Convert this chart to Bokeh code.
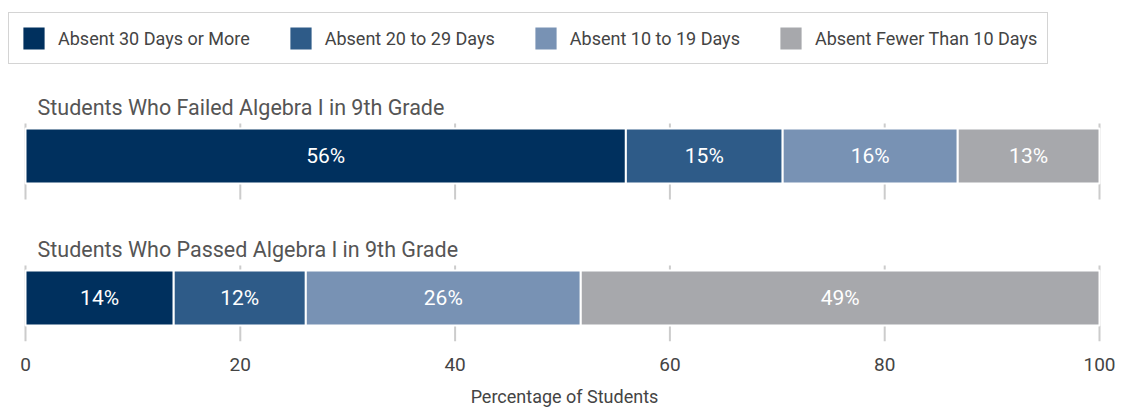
from bokeh.plotting import figure
from bokeh.models import Range1d, FixedTicker, ColumnDataSource, Legend
from bokeh.core.properties import value
from bokeh.embed import file_html
from bokeh.resources import INLINE
import numpy as np

# ---- data ----
series = ["Absent 30 Days or More", "Absent 20 to 29 Days",
          "Absent 10 to 19 Days", "Absent Fewer Than 10 Days"]
groups = ["Students Who Failed Algebra I in 9th Grade",
          "Students Who Passed Algebra I in 9th Grade"]
failed = [55.9, 14.6, 16.3, 13.2]
passed = [13.8, 12.3, 25.6, 48.3]
failed_labels = ["56%", "15%", "16%", "13%"]
passed_labels = ["14%", "12%", "26%", "49%"]
ticks = [0, 20, 40, 60, 80, 100]
xlabel = "Percentage of Students"

# ---- style ----
colors = ["#00305e", "#2e5b88", "#7892b4", "#a7a8ac"]
FONT = "Roboto"
PX_PER_UNIT = 10.74     # horizontal scale
ROW_PX = 142.0          # pixel distance between the two rows
BAR_H = 55 / ROW_PX     # bar thickness in row units
GRID_UP = 5 / ROW_PX
GRID_DOWN = 16 / ROW_PX
keys = ["s0", "s1", "s2", "s3"]
rows = [1, 0]           # failed on top, passed below
W, H, FRAME_H = 1128, 409, 341

p = figure(width=W, height=H, output_backend="svg", toolbar_location=None,
           x_range=Range1d(-25 / PX_PER_UNIT, (W - 25) / PX_PER_UNIT),
           y_range=Range1d(-43.5 / ROW_PX, -43.5 / ROW_PX + FRAME_H / ROW_PX),
           min_border_left=0, min_border_right=0, min_border_top=0,
           min_border_bottom=H - FRAME_H)
p.outline_line_color = None
p.xgrid.visible = False
p.ygrid.visible = False
p.yaxis.visible = False

# grid stubs around each bar, at the tick positions
gx, gy0, gy1 = [], [], []
for r in rows:
    for t in ticks:
        gx.append(t)
        gy0.append(r - BAR_H / 2 - GRID_DOWN)
        gy1.append(r + BAR_H / 2 + GRID_UP)
p.segment(x0=gx, x1=gx, y0=gy0, y1=gy1, line_color="#cccccc", line_width=2)

# stacked bars
src = ColumnDataSource(dict(y=rows, **{k: [failed[i], passed[i]] for i, k in enumerate(keys)}))
rs = p.hbar_stack(keys, y="y", height=BAR_H, color=colors, source=src,
                  line_color="white", line_width=2)

# value labels
for r, vals, labs in zip(rows, [failed, passed], [failed_labels, passed_labels]):
    starts = np.concatenate([[0], np.cumsum(vals)[:-1]])
    centers = starts + np.array(vals) / 2
    p.text(x=list(centers), y=[r] * len(vals), text=labs,
           text_color="white", text_font=value(FONT), text_font_size="21px",
           text_align="center", text_baseline="middle")

# row titles
p.text(x=[0, 0], y=[r + BAR_H / 2 for r in rows], text=groups,
       x_offset=12, y_offset=-21, text_color="#555555",
       text_font=value(FONT), text_font_size="21.5px",
       text_align="left", text_baseline="alphabetic")

# x axis
ax = p.xaxis[0]
ax.ticker = FixedTicker(ticks=ticks)
ax.axis_line_color = None
ax.major_tick_line_color = None
ax.minor_tick_line_color = None
ax.major_label_text_font = FONT
ax.major_label_text_font_size = "19px"
ax.major_label_text_color = "#444444"
ax.major_label_standoff = 10
ax.axis_label = xlabel
ax.axis_label_text_font = FONT
ax.axis_label_text_font_size = "18px"
ax.axis_label_text_font_style = "normal"
ax.axis_label_text_color = "#444444"
ax.axis_label_standoff = 12

# legend
lg = Legend(items=[(s, [r]) for s, r in zip(series, rs)],
            orientation="horizontal", location=(8, FRAME_H - 64))
lg.glyph_width = 29
lg.glyph_height = 30
lg.label_text_font = FONT
lg.label_text_font_size = "18px"
lg.label_text_color = "#444444"
lg.label_standoff = 10
lg.spacing = 36
lg.padding = 10
lg.margin = 0
lg.border_line_color = "#aaaaaa"
lg.border_line_width = 1.5
lg.background_fill_alpha = 1
p.add_layout(lg, "center")

open("out.html", "w").write(file_html(p, INLINE))
